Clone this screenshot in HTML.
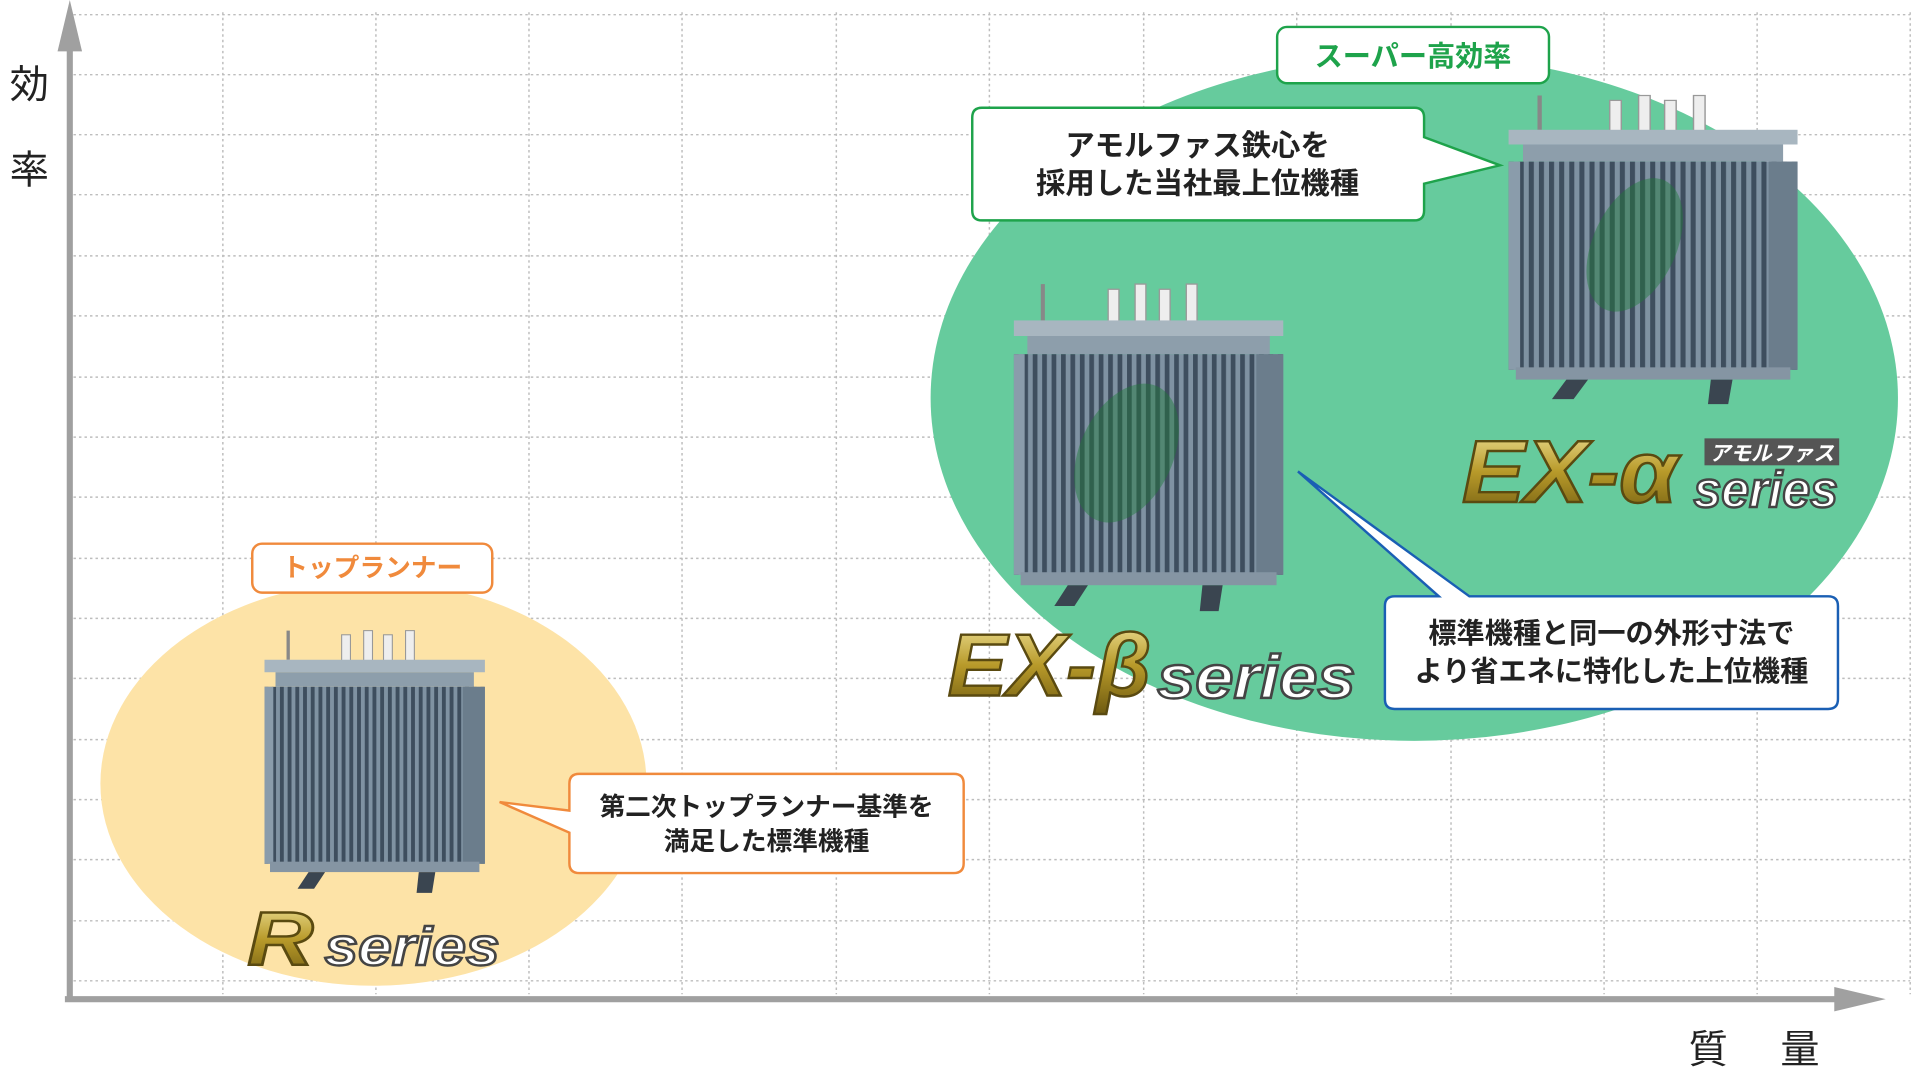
<!DOCTYPE html>
<html><head><meta charset="utf-8">
<style>
html,body{margin:0;padding:0;background:#fff;overflow:hidden;width:1920px;height:1080px}
svg{display:block}
text{font-family:"Liberation Sans","Noto Sans CJK JP",sans-serif}
</style></head><body>
<svg width="1920" height="1080" viewBox="0 0 1568 882" preserveAspectRatio="none" xmlns="http://www.w3.org/2000/svg">
<defs>
<pattern id="fins" width="7" height="10" patternUnits="userSpaceOnUse">
<rect width="7" height="10" fill="#7f92a2"/><rect x="0" width="3.5" height="10" fill="#3e4e5e"/>
</pattern>
<linearGradient id="gold" x1="0" y1="0" x2="0" y2="1">
<stop offset="0" stop-color="#f4e8a0"/><stop offset="0.5" stop-color="#b89a2a"/><stop offset="1" stop-color="#6e5a10"/>
</linearGradient>
<g id="tr">
<rect x="20" y="0" width="3" height="28" fill="#888"/>
<rect x="70" y="4" width="8" height="26" fill="#eee" stroke="#999"/>
<rect x="90" y="0" width="8" height="30" fill="#eee" stroke="#999"/>
<rect x="108" y="4" width="8" height="26" fill="#eee" stroke="#999"/>
<rect x="128" y="0" width="8" height="30" fill="#eee" stroke="#999"/>
<rect x="0" y="28" width="200" height="12" fill="#a8b6c0"/>
<rect x="10" y="40" width="180" height="14" fill="#8d9eab"/>
<rect x="0" y="54" width="200" height="170" fill="url(#fins)"/>
<rect x="180" y="54" width="20" height="170" fill="#6b7d8c"/>
<rect x="0" y="54" width="8" height="170" fill="#8a9cab"/>
<rect x="5" y="222" width="190" height="10" fill="#8595a3"/>
<polygon points="40,232 55,232 45,248 30,248" fill="#3a4550"/>
<polygon points="140,232 155,232 152,252 138,252" fill="#3a4550"/>
</g>
</defs>
<g stroke="#bdbdbd" stroke-width="1.2" stroke-dasharray="2,2.5">
<line x1="182" y1="10" x2="182" y2="812"/><line x1="307" y1="10" x2="307" y2="812"/><line x1="432" y1="10" x2="432" y2="812"/><line x1="557" y1="10" x2="557" y2="812"/><line x1="683" y1="10" x2="683" y2="812"/><line x1="808" y1="10" x2="808" y2="812"/><line x1="934" y1="10" x2="934" y2="812"/><line x1="1059" y1="10" x2="1059" y2="812"/><line x1="1185" y1="10" x2="1185" y2="812"/><line x1="1310" y1="10" x2="1310" y2="812"/><line x1="1435" y1="10" x2="1435" y2="812"/><line x1="1560" y1="10" x2="1560" y2="812"/>
<line x1="60" y1="12" x2="1560" y2="12"/><line x1="60" y1="61" x2="1560" y2="61"/><line x1="60" y1="110" x2="1560" y2="110"/><line x1="60" y1="159" x2="1560" y2="159"/><line x1="60" y1="209" x2="1560" y2="209"/><line x1="60" y1="258" x2="1560" y2="258"/><line x1="60" y1="308" x2="1560" y2="308"/><line x1="60" y1="357" x2="1560" y2="357"/><line x1="60" y1="406" x2="1560" y2="406"/><line x1="60" y1="456" x2="1560" y2="456"/><line x1="60" y1="505" x2="1560" y2="505"/><line x1="60" y1="554" x2="1560" y2="554"/><line x1="60" y1="604" x2="1560" y2="604"/><line x1="60" y1="653" x2="1560" y2="653"/><line x1="60" y1="702" x2="1560" y2="702"/><line x1="60" y1="752" x2="1560" y2="752"/><line x1="60" y1="801" x2="1560" y2="801"/>
</g>
<ellipse cx="305" cy="640" rx="223" ry="165" fill="#fde3a7"/>
<ellipse cx="1155" cy="325" rx="395" ry="280" fill="#66cb9d"/>
<line x1="57" y1="30" x2="57" y2="818" stroke="#a0a0a0" stroke-width="5"/>
<polygon points="47,42 57,0 67,42" fill="#a0a0a0"/>
<line x1="53" y1="816" x2="1505" y2="816" stroke="#a0a0a0" stroke-width="5"/>
<polygon points="1498,806 1540,816 1498,826" fill="#a0a0a0"/>
<text x="24" y="80" font-size="32" text-anchor="middle" fill="#222">効</text>
<text x="24" y="150" font-size="32" text-anchor="middle" fill="#222">率</text>
<text x="1395" y="868" font-size="32" text-anchor="middle" fill="#222">質</text>
<text x="1470" y="868" font-size="32" text-anchor="middle" fill="#222">量</text>
<g transform="translate(1232,78) scale(1.18,1.0)"><use href="#tr"/></g>
<g transform="translate(828,232) scale(1.1,1.06)"><use href="#tr"/></g>
<g transform="translate(216,515) scale(0.9,0.85)"><use href="#tr"/></g>
<ellipse cx="920" cy="370" rx="38" ry="60" fill="#1f7a3a" opacity="0.45" transform="rotate(25 920 370)"/>
<ellipse cx="1335" cy="200" rx="34" ry="58" fill="#1f7a3a" opacity="0.45" transform="rotate(25 1335 200)"/>
<rect x="1043" y="22" width="222" height="46" rx="8" fill="#fff" stroke="#1ea34b" stroke-width="2"/>
<text x="1154" y="54" font-size="23" text-anchor="middle" fill="#1ea34b" font-weight="bold">スーパー高効率</text>
<path d="M802,88 H1155 Q1163,88 1163,96 V112 L1225,135 L1163,150 V172 Q1163,180 1155,180 H802 Q794,180 794,172 V96 Q794,88 802,88Z" fill="#fff" stroke="#1ea34b" stroke-width="2"/>
<text x="978" y="127" font-size="24" text-anchor="middle" fill="#222" font-weight="bold">アモルファス鉄心を</text>
<text x="978" y="158" font-size="24" text-anchor="middle" fill="#222" font-weight="bold">採用した当社最上位機種</text>
<rect x="206" y="444" width="196" height="40" rx="8" fill="#fff" stroke="#f08a3c" stroke-width="2"/>
<text x="304" y="471" font-size="21" text-anchor="middle" fill="#f08a3c" font-weight="bold">トップランナー</text>
<path d="M473,632 H779 Q787,632 787,640 V705 Q787,713 779,713 H473 Q465,713 465,705 V680 L408,655 L465,662 V640 Q465,632 473,632Z" fill="#fff" stroke="#f08a3c" stroke-width="2"/>
<text x="626" y="666" font-size="21" text-anchor="middle" fill="#222" font-weight="bold">第二次トップランナー基準を</text>
<text x="626" y="694" font-size="21" text-anchor="middle" fill="#222" font-weight="bold">満足した標準機種</text>
<path d="M1139,487 H1175 L1060,385 L1200,487 H1493 Q1501,487 1501,495 V571 Q1501,579 1493,579 H1139 Q1131,579 1131,571 V495 Q1131,487 1139,487Z" fill="#fff" stroke="#1a5fb4" stroke-width="2"/>
<text x="1316" y="525" font-size="23" text-anchor="middle" fill="#222" font-weight="bold">標準機種と同一の外形寸法で</text>
<text x="1316" y="556" font-size="23" text-anchor="middle" fill="#222" font-weight="bold">より省エネに特化した上位機種</text>
<g font-style="italic" font-weight="bold" stroke-width="2">
<text x="202" y="788" font-size="62" fill="url(#gold)" stroke="#5a4a10" textLength="54" lengthAdjust="spacingAndGlyphs">R</text>
<text x="265" y="788" font-size="44" fill="#fff" stroke="#444" textLength="143" lengthAdjust="spacingAndGlyphs">series</text>
<text x="774" y="568" font-size="72" fill="url(#gold)" stroke="#5a4a10" textLength="166" lengthAdjust="spacingAndGlyphs">EX-β</text>
<text x="945" y="570" font-size="50" fill="#fff" stroke="#444" textLength="162" lengthAdjust="spacingAndGlyphs">series</text>
<text x="1194" y="410" font-size="72" fill="url(#gold)" stroke="#5a4a10" textLength="176" lengthAdjust="spacingAndGlyphs">EX-α</text>
<rect x="1392" y="358" width="110" height="22" fill="#555"/>
<text x="1447" y="376" font-size="17" text-anchor="middle" fill="#fff" stroke="none">アモルファス</text>
<text x="1383" y="414" font-size="42" fill="#fff" stroke="#444" textLength="118" lengthAdjust="spacingAndGlyphs">series</text>
</g>
</svg>
</body></html>
